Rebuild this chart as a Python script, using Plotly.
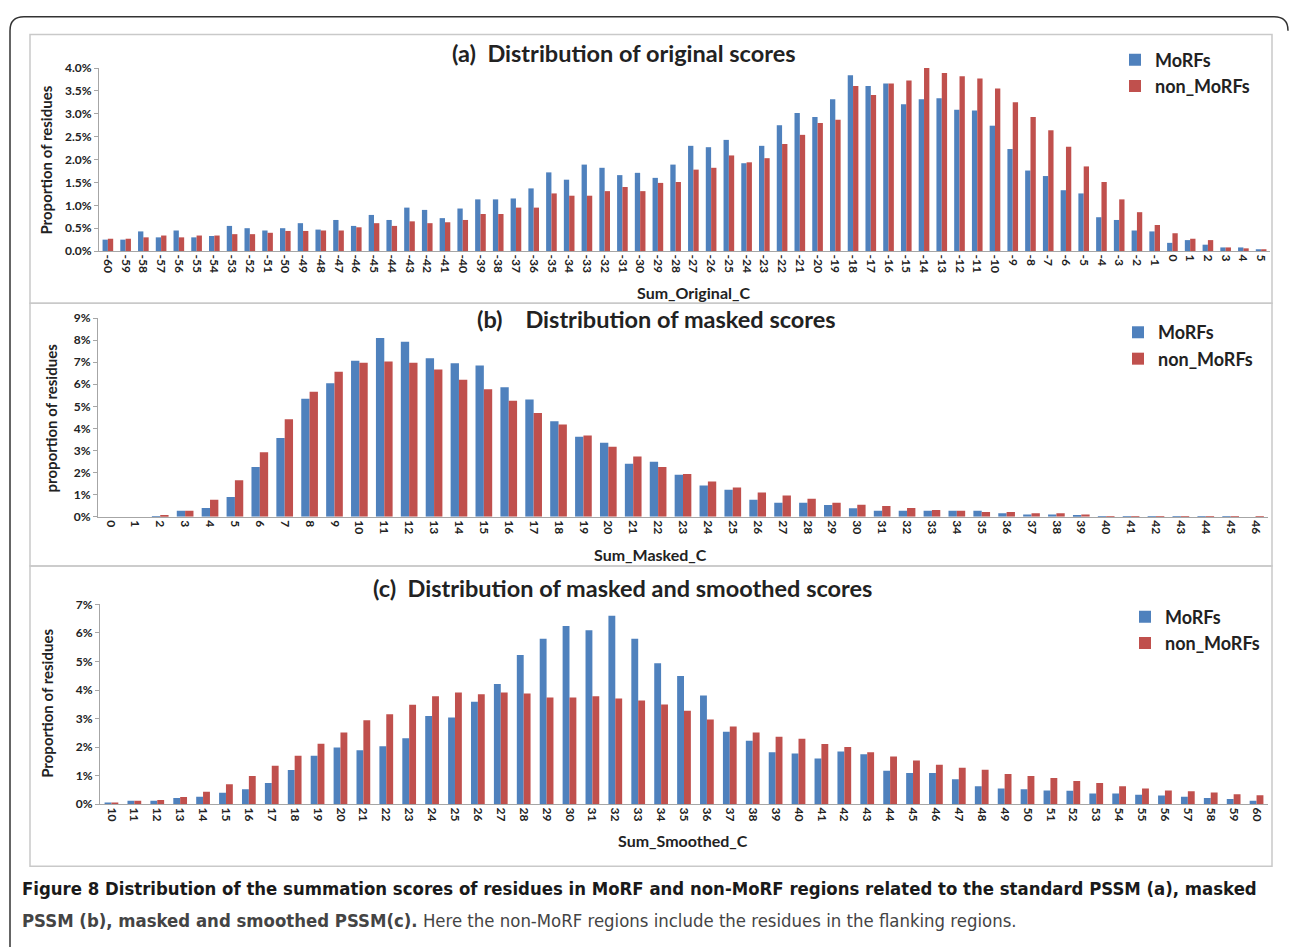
import plotly.graph_objects as go

W, H = 1290, 947

# ---- data -------------------------------------------------------------
orig_scores = [str(v) for v in range(-60, 6)]
orig_morf = [0.25, 0.25, 0.43, 0.30, 0.45, 0.30, 0.33, 0.55, 0.50, 0.45,
             0.50, 0.61, 0.47, 0.68, 0.55, 0.79, 0.68, 0.95, 0.90, 0.72,
             0.93, 1.13, 1.13, 1.15, 1.37, 1.72, 1.56, 1.89, 1.82, 1.66,
             1.71, 1.60, 1.89, 2.30, 2.27, 2.43, 1.92, 2.30, 2.75, 3.02,
             2.93, 3.32, 3.84, 3.61, 3.66, 3.21, 3.32, 3.34, 3.09, 3.07,
             2.74, 2.23, 1.76, 1.64, 1.33, 1.26, 0.74, 0.68, 0.45, 0.43,
             0.18, 0.24, 0.14, 0.08, 0.08, 0.04]
orig_non = [0.27, 0.27, 0.30, 0.34, 0.30, 0.34, 0.34, 0.37, 0.37, 0.40,
            0.44, 0.44, 0.45, 0.45, 0.52, 0.61, 0.55, 0.65, 0.61, 0.63,
            0.68, 0.81, 0.81, 0.95, 0.95, 1.26, 1.21, 1.21, 1.31, 1.40,
            1.31, 1.49, 1.51, 1.78, 1.82, 2.09, 1.94, 2.03, 2.34, 2.54,
            2.80, 2.87, 3.61, 3.41, 3.66, 3.73, 4.00, 3.89, 3.82, 3.77,
            3.55, 3.25, 2.93, 2.64, 2.28, 1.85, 1.51, 1.13, 0.85, 0.57,
            0.39, 0.27, 0.24, 0.08, 0.06, 0.04]

masked_scores = [str(v) for v in range(0, 47)]
masked_morf = [0.00, 0.00, 0.03, 0.27, 0.40, 0.90, 2.25, 3.57, 5.35, 6.05,
               7.06, 8.10, 7.92, 7.18, 6.95, 6.85, 5.86, 5.31, 4.33, 3.63,
               3.35, 2.40, 2.49, 1.90, 1.42, 1.23, 0.77, 0.64, 0.64, 0.53,
               0.39, 0.27, 0.27, 0.27, 0.27, 0.27, 0.16, 0.10, 0.10, 0.04,
               0.03, 0.01, 0.03, 0.03, 0.01, 0.01, 0.00]
masked_non = [0.00, 0.00, 0.06, 0.27, 0.77, 1.65, 2.92, 4.42, 5.66, 6.57,
              6.98, 7.03, 6.98, 6.67, 6.20, 5.77, 5.25, 4.70, 4.18, 3.68,
              3.17, 2.73, 2.25, 1.94, 1.60, 1.33, 1.10, 0.96, 0.82, 0.64,
              0.55, 0.49, 0.40, 0.31, 0.27, 0.22, 0.22, 0.16, 0.16, 0.10,
              0.03, 0.03, 0.03, 0.03, 0.03, 0.03, 0.01]

smooth_scores = [str(v) for v in range(10, 61)]
smooth_morf = [0.05, 0.12, 0.12, 0.22, 0.26, 0.40, 0.52, 0.74, 1.20, 1.70,
               1.99, 1.89, 2.03, 2.31, 3.09, 3.04, 3.59, 4.21, 5.23, 5.80,
               6.24, 6.09, 6.60, 5.80, 4.94, 4.49, 3.81, 2.54, 2.22, 1.82,
               1.78, 1.60, 1.85, 1.75, 1.17, 1.09, 1.09, 0.87, 0.63, 0.55,
               0.52, 0.48, 0.47, 0.37, 0.37, 0.33, 0.30, 0.26, 0.22, 0.18,
               0.12]
smooth_non = [0.05, 0.12, 0.15, 0.25, 0.44, 0.70, 0.99, 1.35, 1.70, 2.12,
              2.51, 2.94, 3.15, 3.48, 3.78, 3.91, 3.85, 3.91, 3.88, 3.74,
              3.74, 3.78, 3.70, 3.63, 3.49, 3.27, 2.97, 2.72, 2.51, 2.36,
              2.29, 2.11, 2.00, 1.82, 1.67, 1.53, 1.38, 1.28, 1.21, 1.06,
              0.99, 0.92, 0.81, 0.74, 0.63, 0.55, 0.48, 0.45, 0.41, 0.35,
              0.31]

series_names = ["MoRFs", "non_MoRFs"]
panel_titles = ["(a)  Distribution of original scores",
                "(b)    Distribution of masked scores",
                "(c)  Distribution of masked and smoothed scores"]
x_titles = ["Sum_Original_C", "Sum_Masked_C", "Sum_Smoothed_C"]
y_titles = ["Proportion of residues", "proportion of residues",
            "Proportion of residues"]

# ---- styling ------------------------------------------------------------
BLUE = "#4F81BD"
RED = "#C0504D"
FONT = "Lato"
TXT = "#222222"
AXIS = "#a6a6a6"


def fx(p):
    return p / W


def fy(p):
    return 1 - p / H


# pixel geometry of each panel: plot area (x0, x1, ytop, ybottom), y max, y step
panels = [
    dict(cats=orig_scores, morf=orig_morf, non=orig_non,
         px=(99, 1270, 61, 247), ymax=4.0, dtick=0.5, fmt=".1f", bw=0.30,
         box=(30, 1272, 27, 300), title_xy=(624, 46), xt_xy=(693, 289),
         yt_xy=(46, 155), leg_xy=(1115, 34)),
    dict(cats=masked_scores, morf=masked_morf, non=masked_non,
         px=(98, 1268, 315, 517), ymax=9, dtick=1, fmt="d", bw=0.335,
         box=(30, 1272, 300, 567), title_xy=(656, 316), xt_xy=(650, 555),
         yt_xy=(51, 417), leg_xy=(1118, 311)),
    dict(cats=smooth_scores, morf=smooth_morf, non=smooth_non,
         px=(100, 1268, 606, 809), ymax=7, dtick=1, fmt="d", bw=0.30,
         box=(30, 1272, 567, 872), title_xy=(622, 589), xt_xy=(683, 846),
         yt_xy=(47, 707), leg_xy=(1125, 600)),
]

fig = go.Figure()
shapes = []
annotations = []
layout = dict(
    width=W, height=H,
    margin=dict(l=0, r=0, t=0, b=0),
    paper_bgcolor="white", plot_bgcolor="white",
    barmode="overlay",
    showlegend=True,
    font=dict(family=FONT, color=TXT),
)

for i, p in enumerate(panels):
    n = "" if i == 0 else str(i + 1)
    leg = "legend" + n
    x0, x1, yt, yb = p["px"]
    bw = p["bw"]
    for name, vals, col, off in ((series_names[0], p["morf"], BLUE, -bw),
                                 (series_names[1], p["non"], RED, 0.0)):
        fig.add_trace(go.Bar(
            x=p["cats"], y=vals, name=name, marker=dict(color=col, line_width=0),
            width=bw, offset=off, xaxis="x" + n, yaxis="y" + n, legend=leg,
            hovertemplate="%{x}: %{y:.2f}%<extra>" + name + "</extra>",
        ))

    layout["xaxis" + n] = dict(
        domain=[fx(x0), fx(x1)], anchor="y" + n, type="category",
        range=[-0.5, len(p["cats"]) - 0.5], tickangle=90,
        showline=True, linecolor=AXIS, linewidth=1, ticks="",
        showgrid=False, zeroline=False,
        tickfont=dict(family=FONT, size=12, weight="bold", color=TXT),
    )
    layout["yaxis" + n] = dict(
        domain=[fy(yb), fy(yt)], anchor="x" + n,
        range=[0, p["ymax"]], dtick=p["dtick"], tick0=0,
        tickformat=p["fmt"], ticksuffix="%",
        showline=True, linecolor=AXIS, linewidth=1,
        ticks="outside", ticklen=4, tickcolor=AXIS,
        showgrid=False, zeroline=False,
        tickfont=dict(family=FONT, size=12, weight="bold", color=TXT),
    )
    lx, ly = p["leg_xy"]
    layout[leg] = dict(
        x=fx(lx), y=fy(ly), xanchor="left", yanchor="top",
        bgcolor="rgba(0,0,0,0)", borderwidth=0,
        font=dict(family=FONT, size=18, weight="bold", color=TXT),
        itemwidth=30, tracegroupgap=0,
    )

    bx0, bx1, by0, by1 = p["box"]
    shapes.append(dict(type="rect", xref="paper", yref="paper",
                       x0=fx(bx0), x1=fx(bx1), y0=fy(by1), y1=fy(by0),
                       line=dict(color="#c9c9c9", width=1.5),
                       fillcolor="rgba(0,0,0,0)", layer="below"))

    tx, ty = p["title_xy"]
    annotations.append(dict(text=panel_titles[i], xref="paper", yref="paper",
                            x=fx(tx), y=fy(ty), xanchor="center", yanchor="middle",
                            showarrow=False,
                            font=dict(family=FONT, size=23.5, weight="bold", color=TXT)))
    ax, ay = p["xt_xy"]
    annotations.append(dict(text=x_titles[i], xref="paper", yref="paper",
                            x=fx(ax), y=fy(ay), xanchor="center", yanchor="middle",
                            showarrow=False,
                            font=dict(family=FONT, size=16, weight="bold", color=TXT)))
    vx, vy = p["yt_xy"]
    annotations.append(dict(text=y_titles[i], xref="paper", yref="paper",
                            x=fx(vx), y=fy(vy), xanchor="center", yanchor="middle",
                            textangle=-90, showarrow=False,
                            font=dict(family=FONT, size=15, weight="bold", color=TXT)))

# rounded outer frame of the figure
r = 14
L, T, R, B = 10, 9, 1288, 990
path = (f"M {fx(L)},{fy(B)} L {fx(L)},{fy(T + r)} "
        f"Q {fx(L)},{fy(T)} {fx(L + r)},{fy(T)} "
        f"L {fx(R - r)},{fy(T)} Q {fx(R)},{fy(T)} {fx(R)},{fy(T + r)}")
shapes.append(dict(type="path", xref="paper", yref="paper", path=path,
                   line=dict(color="#333333", width=1.5)))

# figure caption
CAP = "DejaVu Sans Condensed"
annotations.append(dict(
    text="Figure 8 Distribution of the summation scores of residues in MoRF and "
         "non-MoRF regions related to the standard PSSM (a), masked",
    xref="paper", yref="paper", x=fx(20), y=fy(895), xanchor="left",
    yanchor="middle", showarrow=False,
    font=dict(family=CAP, size=18.4, weight="bold", color="#1a1a1a")))
annotations.append(dict(
    text="<b>PSSM (b), masked and smoothed PSSM(c).</b> Here the non-MoRF regions "
         "include the residues in the flanking regions.",
    xref="paper", yref="paper", x=fx(20), y=fy(927), xanchor="left",
    yanchor="middle", showarrow=False,
    font=dict(family=CAP, size=18.4, color="#444444")))

layout["shapes"] = shapes
layout["annotations"] = annotations
fig.update_layout(**layout)

fig.write_html("out.html")
